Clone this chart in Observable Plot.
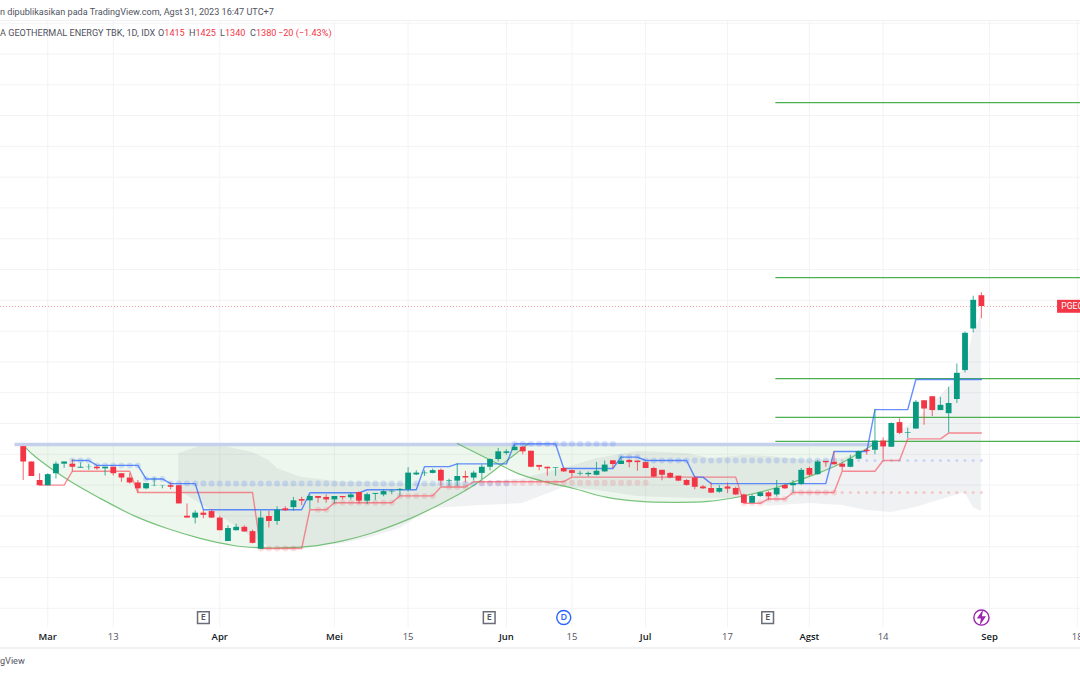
<!DOCTYPE html>
<html><head><meta charset="utf-8">
<script src="https://cdn.jsdelivr.net/npm/d3@7"></script>
<script src="https://cdn.jsdelivr.net/npm/@observablehq/plot@0.6"></script>
<style>
html,body{margin:0;padding:0;background:#fff;overflow:hidden}
#wrap{position:relative;width:1080px;height:675px;font-family:Roboto,sans-serif;color:#50535e;overflow:hidden}
#wrap svg{position:absolute;left:0;top:0}
.t{position:absolute;white-space:pre;font-size:9.1px;line-height:12px}
.r{color:#f23645}
.line{position:absolute;left:0;width:1080px;background:#f1f1f4}
</style></head><body>
<div id="wrap"></div>
<script>
const opens=[925,875,815,798,837,868,868,855,857,858,853,858,837,823,807,788,798,798,798,798,699,693,709,714,693,617,652,663,649,592,698,682,723,727,753,749,763,760,752,763,759,776,748,770,768,778,783,785,833,837,838,848,812,813,828,823,838,858,883,903,912,923,910,864,858,854,854,847,836,834,832,843,879,867,880,878,873,854,848,838,829,815,823,794,789,777,794,789,768,741,763,775,768,799,798,802,854,834,877,874,868,858,884,913,913,943,923,1003,968,982,1074,1087,1042,1032,1078,1172,1307,1415];
const highs=[925,875,837,837,875,875,883,872,867,863,858,858,837,837,815,805,823,799,807,798,739,717,717,720,699,668,673,668,654,715,715,730,730,760,761,769,763,769,763,763,774,778,774,773,785,785,789,856,847,847,852,852,819,869,845,845,865,886,919,915,930,925,910,864,858,856,856,849,845,843,874,878,879,893,883,878,875,858,848,840,829,818,826,799,807,799,807,793,770,768,777,779,815,802,815,854,858,880,877,908,872,897,911,917,1045,953,1002,1015,985,1075,1074,1087,1085,1118,1193,1297,1413,1425];
const lows=[815,828,798,798,820,855,843,855,848,848,830,830,809,804,774,785,795,788,785,739,693,674,691,692,652,617,651,647,609,592,661,670,714,715,733,721,741,741,739,752,752,739,737,750,762,769,764,778,831,828,837,796,796,796,807,813,818,847,875,897,912,899,856,847,829,829,841,826,830,826,830,842,854,867,856,845,854,824,814,821,811,796,785,786,773,774,773,766,741,741,761,751,762,786,775,799,827,832,858,866,845,856,884,897,899,883,923,964,951,982,994,1023,1042,969,1065,1164,1294,1340];
const closes=[875,828,798,834,868,875,858,858,858,853,858,837,823,807,788,805,799,799,793,739,693,709,702,693,652,659,663,648,611,693,682,719,717,749,748,763,757,752,763,759,768,748,769,773,779,780,786,839,839,839,847,813,814,828,823,839,858,883,908,908,923,908,858,858,853,856,843,838,838,838,845,865,867,878,873,873,854,826,832,823,813,799,793,788,774,789,787,768,741,763,775,762,789,788,805,848,832,875,873,866,858,884,909,909,943,924,1000,968,970,1069,1047,1042,1059,1065,1163,1293,1400,1380];

const blueRuns=[[6,880],[9,864],[15,820],[18,805],[22,720],[35,775],[42,785],[49,860],[53,869],[60,934],[66,854],[73,891],[76,880],[82,826],[84,805],[99,909],[104,1045],[109,1143]];
const redRuns=[[2,800],[6,845],[14,776],[29,594],[35,720],[38,743],[46,765],[51,794],[55,811],[67,826],[88,741],[91,755],[94,776],[100,845],[105,880],[108,950],[113,969]];
const blueDotRuns=[[6,880],[9,864],[15,820],[18,805],[60,934],[73,891],[76,880]];
const redDotRuns=[[29,594],[34,null],[36,720],[38,743],[46,765],[51,null],[52,794],[55,null],[56,808],[77,null],[88,741],[91,755],[94,776]];

const greyIdx=[19,22,24,28,30,31,34,39,42,46,48,50,56,61,66,70,75,81,84,88,91,96,100,103,106,109,113,115,116,117];
const greyUpper=[903,929,929,906,880,854,825,809,809,805,805,805,809,821,854,886,909,903,886,896,893,880,886,912,955,1010,1117,1182,1292,1351];
const greyLower=[783,734,701,630,601,597,597,610,627,659,692,724,734,740,792,783,763,757,757,757,731,740,734,718,711,727,760,776,727,714];

const cup1Idx=[0.3,1.3,5.4,9.4,13.5,17.6,21.6,25.7,28.6,31.4,35,39.1,42.4,47.3,50.6,54.6,58.6,61.7];
const cup1Price=[922,896,818,757,701,659,627,604,597,596,601,620,643,692,734,792,870,935];
const cup2Idx=[53,57.9,60.7,64,67.2,71.3,75.4,79.4,83.6,87.6,91.6,97,99.8,102.6,104];
const cup2Price=[935,870,835,809,789,760,747,744,747,763,789,838,870,912,935];

const bandPrice=932;
const levelPrices=[2042,1474,1146,1020,942];
const lastPrice=1380;
const gridPrices=[400,500,600,700,800,900,1000,1100,1200,1300,1400,1500,1600,1700,1800,1900,2000,2100,2200,2300];
const monthTicks=[3,24,38,59,76,96,118];
const monthLabels=["Mar","Apr","Mei","Jun","Jul","Agst","Sep"];
const dayTicks=[11,47,67,86,105,128.7];
const dayLabels=["13","15","15","17","14","18"];
const earningsIdx=[22,56.9,90.9];

const bars=opens.map((o,i)=>({i,o,h:highs[i],l:lows[i],c:closes[i],up:closes[i]>=o}));
const expand=(runs,last)=>{const out=[];runs.forEach(([s,p],k)=>{const e=k+1<runs.length?runs[k+1][0]:last+1;for(let i=s;i<e;i++)if(p!=null)out.push({i,p});});return out;};
const blueLine=expand(blueRuns,117),redLine=expand(redRuns,117);
const blueDots=expand(blueDotRuns,117),redDots=expand(redDotRuns,117);
const grey=greyIdx.map((i,k)=>({i,u:greyUpper[k],l:greyLower[k]}));
const cup1=cup1Idx.map((i,k)=>({i,p:cup1Price[k]}));
const cup2=cup2Idx.map((i,k)=>({i,p:cup2Price[k]}));
const RED="#f23645",GREEN="#089981",xMin=-2.772,xMax=129.1;
const boltSymbol={draw(c,size){const s=Math.sqrt(size)/12;[[2,-9],[-5,1],[-0.5,1],[-2,9],[5,-1.5],[0.5,-1.5]].forEach(([x,y],k)=>k?c.lineTo(x*s,y*s):c.moveTo(x*s,y*s));c.closePath();}};

const chart=Plot.plot({
  width:1080,height:675,marginTop:20,marginBottom:48,marginLeft:0,marginRight:0,
  style:{background:"transparent",fontFamily:'"Open Sans",sans-serif'},
  x:{type:"linear",domain:[xMin,xMax],axis:null},
  y:{type:"linear",domain:[337.7,2308.6],axis:null},
  marks:[
    Plot.gridY(gridPrices,{stroke:"#f3f3f6",strokeOpacity:1}),
    Plot.gridX([...monthTicks,...dayTicks],{stroke:"#f3f3f6",strokeOpacity:1}),
    Plot.areaY(cup1,{x:"i",y1:"p",y2:bandPrice,curve:"catmull-rom",fill:"#4caf50",fillOpacity:0.1}),
    Plot.areaY(cup2,{x:"i",y1:"p",y2:bandPrice,curve:"catmull-rom",fill:"#4caf50",fillOpacity:0.1}),
    Plot.areaY(grey,{x:"i",y1:"l",y2:"u",curve:"linear",fill:"#78808c",fillOpacity:0.11}),
    Plot.ruleY([bandPrice],{x1:-1,x2:104.4,stroke:"#c5d0ec",strokeWidth:3.5}),
    Plot.ruleY(levelPrices,{x1:91.9,x2:xMax,stroke:"#4caf50",strokeWidth:1.3}),
    Plot.line(cup1,{x:"i",y:"p",curve:"catmull-rom",stroke:"#4caf50",strokeWidth:1.2,strokeOpacity:.75}),
    Plot.line(cup2,{x:"i",y:"p",curve:"catmull-rom",stroke:"#4caf50",strokeWidth:1.2,strokeOpacity:.75}),
    Plot.ruleY([lastPrice],{x1:xMin,x2:126.3,stroke:RED,strokeWidth:1,strokeDasharray:"1 2",strokeOpacity:.5}),
    Plot.dot(blueDots.filter(d=>d.i<100),{x:"i",y:"p",r:3,fill:"#2962ff",fillOpacity:.17}),
    Plot.dot(blueDots.filter(d=>d.i>=100),{x:"i",y:"p",r:1.5,fill:"#2962ff",fillOpacity:.2}),
    Plot.dot(redDots.filter(d=>d.i<100),{x:"i",y:"p",r:3,fill:RED,fillOpacity:.15}),
    Plot.dot(redDots.filter(d=>d.i>=100),{x:"i",y:"p",r:1.5,fill:RED,fillOpacity:.22}),
    Plot.line(redLine,{x:"i",y:"p",stroke:"#f7525f",strokeWidth:1.4,strokeOpacity:.65}),
    Plot.line(blueLine,{x:"i",y:"p",stroke:"#2962ff",strokeWidth:1.4,strokeOpacity:.72}),
    Plot.ruleX(bars,{x:"i",y1:"l",y2:"h",stroke:d=>d.up?GREEN:RED,strokeWidth:1.1,strokeOpacity:.7}),
    Plot.ruleX(bars,{x:"i",y1:"o",y2:"c",stroke:d=>d.up?GREEN:RED,strokeWidth:5.8}),
    Plot.rect([lastPrice],{x1:126.3,x2:xMax,y1:1358,y2:1400,fill:RED}),
    Plot.text(["PGEO"],{x:126.75,y:lastPrice,text:d=>d,textAnchor:"start",fill:"#fff",fontSize:8.6,fontFamily:"Roboto"}),
    Plot.dot(earningsIdx,{x:d=>d,y:370,symbol:"square",r:6.6,fill:"#fff",stroke:"#6a6d78",strokeWidth:1.5}),
    Plot.text(earningsIdx,{x:d=>d,y:370,text:()=>"E",fill:"#50535e",fontSize:9,fontWeight:600}),
    Plot.dot([66],{x:d=>d,y:370,r:7,fill:"#fff",stroke:"#2962ff",strokeWidth:1.4}),
    Plot.text([66],{x:d=>d,y:370,text:()=>"D",fill:"#2962ff",fontSize:9,fontWeight:600}),
    Plot.dot([117],{x:d=>d,y:370,r:7.6,fill:"#fff",stroke:"#9c27b0",strokeWidth:1.4}),
    Plot.dot([117],{x:d=>d,y:370,r:6.2,symbol:boltSymbol,fill:"#9c27b0"}),
    Plot.axisX(monthTicks,{anchor:"bottom",label:null,tickSize:0,tickPadding:6,tickFormat:d=>monthLabels[monthTicks.indexOf(d)],fontSize:9.5,fontWeight:600,fill:"#131722"}),
    Plot.axisX(dayTicks,{anchor:"bottom",label:null,tickSize:0,tickPadding:6,tickFormat:d=>dayLabels[dayTicks.indexOf(d)],fontSize:9.5,fill:"#50535e"})
  ]
});
const w=document.getElementById("wrap");
w.appendChild(chart);
w.insertAdjacentHTML("beforeend",`
<div class="line" style="top:20px;height:1px"></div>
<div class="line" style="top:647px;height:2px"></div>
<div class="t" style="left:0;top:6px">n dipublikasikan pada TradingView.com, Agst 31, 2023 16:47 UTC+7</div>
<div class="t" style="left:0;top:27px">A GEOTHERMAL ENERGY TBK, 1D, IDX</div>
<div class="t" style="left:158px;top:27px">O<span class="r">1415</span></div>
<div class="t" style="left:189px;top:27px">H<span class="r">1425</span></div>
<div class="t" style="left:220px;top:27px">L<span class="r">1340</span></div>
<div class="t" style="left:250px;top:27px">C<span class="r">1380</span></div>
<div class="t r" style="left:278px;top:27px">\u221220 (\u22121.43%)</div>
<div class="t" style="left:0;top:655px">gView</div>`);
</script>
</body></html>
